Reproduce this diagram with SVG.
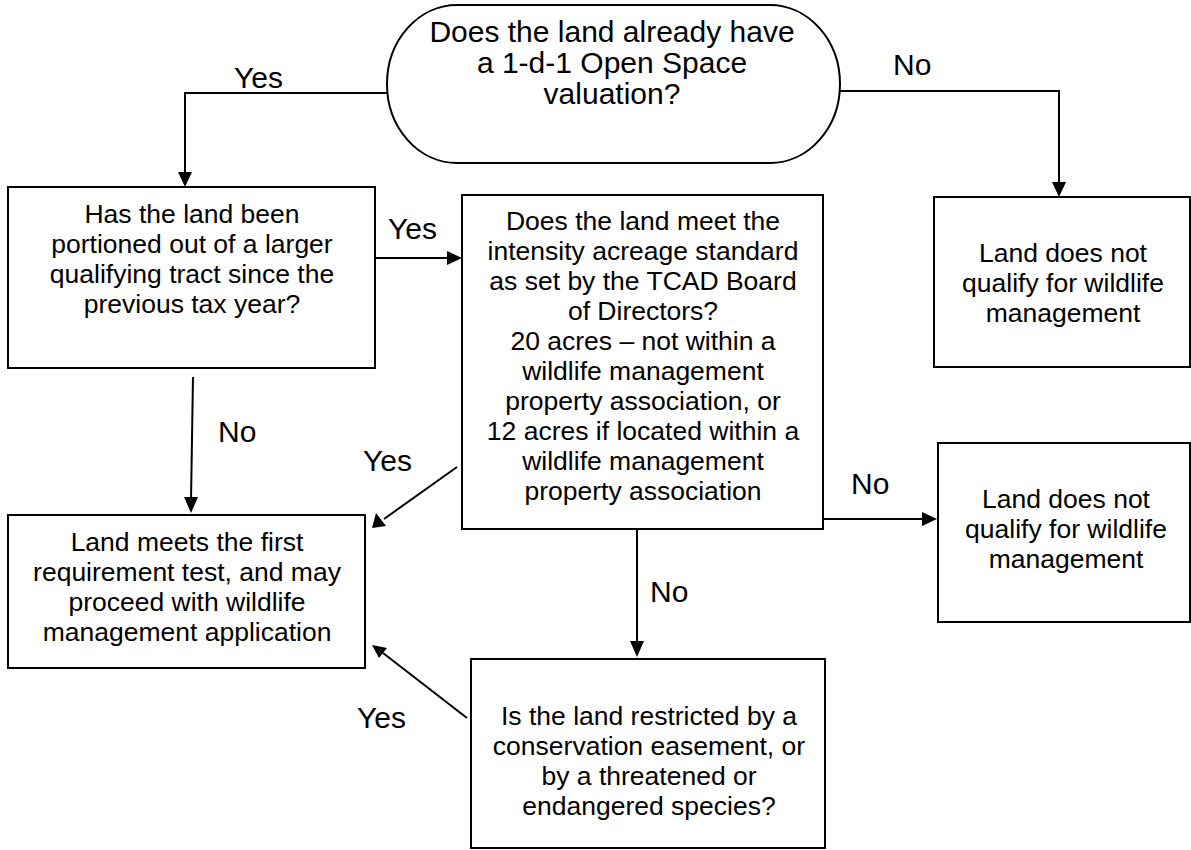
<svg xmlns="http://www.w3.org/2000/svg" width="1191" height="850" viewBox="0 0 1191 850">
<style>
.box{fill:#fff;stroke:#000;stroke-width:2}
.t{font-family:"Liberation Sans",Arial,sans-serif;font-size:26.5px;fill:#000;text-anchor:middle}
.tt{font-family:"Liberation Sans",Arial,sans-serif;font-size:30px;fill:#000;text-anchor:middle}
.lbl{font-family:"Liberation Sans",Arial,sans-serif;font-size:30px;fill:#000}
.c{fill:none;stroke:#000;stroke-width:2}
.ah{fill:#000}
</style>
<rect width="1191" height="850" fill="#fff"/>
<g id="connectors">
<path class="c" d="M387,93 H185 V174"/>
<path class="ah" d="M178,172 L192,172 L185,187 z"/>
<path class="c" d="M840,91 H1059 V184"/>
<path class="ah" d="M1052,182 L1066,182 L1059,197 z"/>
<path class="c" d="M375,258 H450"/>
<path class="ah" d="M447,251 L462,258 L447,265 z"/>
<path class="c" d="M193,377 L191,500"/>
<path class="ah" d="M184,497 L198,497 L191,513 z"/>
<path class="c" d="M457,467 L384,519"/>
<path class="ah" d="M376,513 L386,526 L372,528 z"/>
<path class="c" d="M817,519 H924"/>
<path class="ah" d="M922,512 L937,519 L922,526 z"/>
<path class="c" d="M637,529 V643"/>
<path class="ah" d="M630,641 L644,641 L637,657 z"/>
<path class="c" d="M467,718 L383,653"/>
<path class="ah" d="M372,645 L387,648 L379,658 z"/>
</g>
<g id="labels">
<text class="lbl" x="234" y="88">Yes</text>
<text class="lbl" x="893" y="75">No</text>
<text class="lbl" x="388" y="239">Yes</text>
<text class="lbl" x="218" y="442">No</text>
<text class="lbl" x="363" y="471">Yes</text>
<text class="lbl" x="851" y="494">No</text>
<text class="lbl" x="650" y="602">No</text>
<text class="lbl" x="357" y="728">Yes</text>
</g>
<g id="start">
<rect class="box" x="387" y="5" width="453" height="158" rx="70" ry="79"/>
<text class="tt" x="612" y="42">Does the land already have</text>
<text class="tt" x="612" y="73">a 1-d-1 Open Space</text>
<text class="tt" x="612" y="104">valuation?</text>
</g>
<g id="portioned">
<rect class="box" x="8" y="187" width="367" height="181"/>
<text class="t" x="192" y="223">Has the land been</text>
<text class="t" x="192" y="253">portioned out of a larger</text>
<text class="t" x="192" y="283">qualifying tract since the</text>
<text class="t" x="192" y="313">previous tax year?</text>
</g>
<g id="intensity">
<rect class="box" x="462" y="195" width="361" height="334"/>
<text class="t" x="643" y="230">Does the land meet the</text>
<text class="t" x="643" y="260">intensity acreage standard</text>
<text class="t" x="643" y="290">as set by the TCAD Board</text>
<text class="t" x="643" y="320">of Directors?</text>
<text class="t" x="643" y="350">20 acres – not within a</text>
<text class="t" x="643" y="380">wildlife management</text>
<text class="t" x="643" y="410">property association, or</text>
<text class="t" x="643" y="440">12 acres if located within a</text>
<text class="t" x="643" y="470">wildlife management</text>
<text class="t" x="643" y="500">property association</text>
</g>
<g id="notqualify1">
<rect class="box" x="934" y="197" width="256" height="170"/>
<text class="t" x="1063" y="262">Land does not</text>
<text class="t" x="1063" y="292">qualify for wildlife</text>
<text class="t" x="1063" y="322">management</text>
</g>
<g id="notqualify2">
<rect class="box" x="938" y="443" width="252" height="179"/>
<text class="t" x="1066" y="508">Land does not</text>
<text class="t" x="1066" y="538">qualify for wildlife</text>
<text class="t" x="1066" y="568">management</text>
</g>
<g id="meets">
<rect class="box" x="8" y="515" width="357" height="153"/>
<text class="t" x="187" y="551">Land meets the first</text>
<text class="t" x="187" y="581">requirement test, and may</text>
<text class="t" x="187" y="611">proceed with wildlife</text>
<text class="t" x="187" y="641">management application</text>
</g>
<g id="restricted">
<rect class="box" x="471" y="659" width="354" height="189"/>
<text class="t" x="649" y="725">Is the land restricted by a</text>
<text class="t" x="649" y="755">conservation easement, or</text>
<text class="t" x="649" y="785">by a threatened or</text>
<text class="t" x="649" y="815">endangered species?</text>
</g>
</svg>
